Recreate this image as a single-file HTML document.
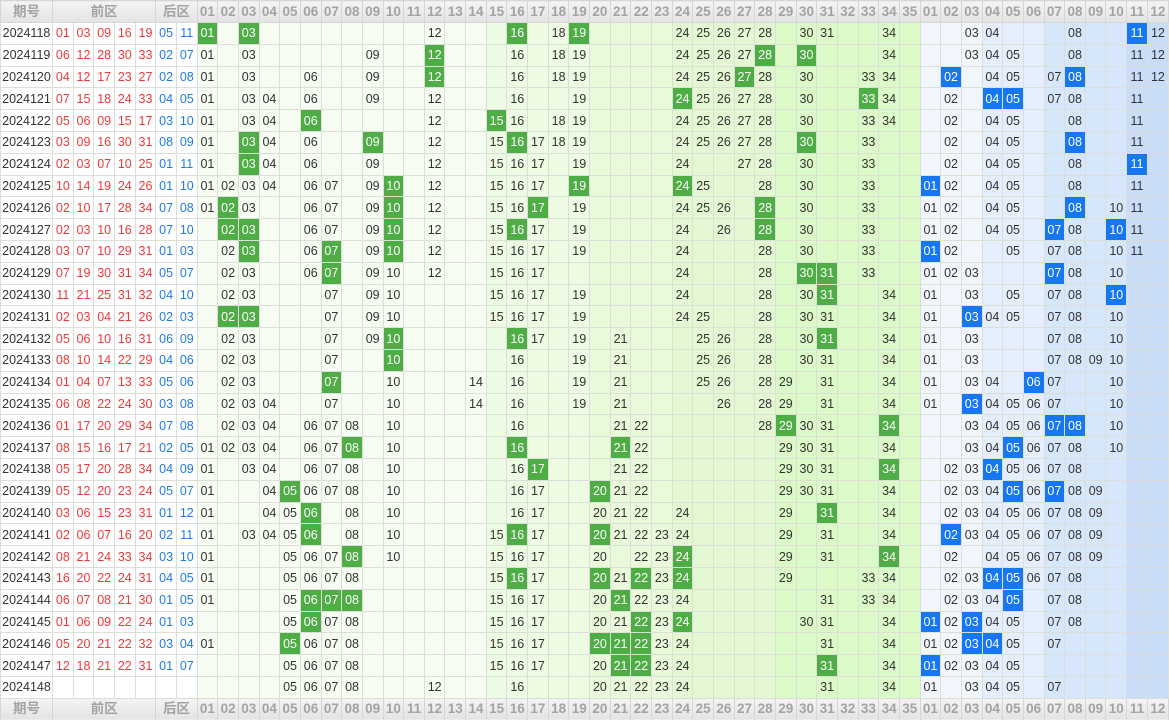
<!DOCTYPE html>
<html><head><meta charset="utf-8"><style>
html,body{margin:0;padding:0;background:#fff;width:1169px;height:720px;overflow:hidden}
table{border-collapse:collapse;table-layout:fixed;width:1169px;font-family:"Liberation Sans","Noto Sans CJK SC",sans-serif;font-size:12.5px;color:#333}
td,th{border:1px solid #dcdfd8;padding:0;text-align:center;white-space:nowrap;overflow:hidden;height:20.8px;line-height:20px}
th{background:linear-gradient(#f4f4f4,#e3e3e3);color:#a3a3a3;font-weight:bold;font-size:13.5px;height:21px;border-color:#d6d6d6}
tbody td:nth-child(n+2):nth-child(-n+6){color:#f0383a}
tbody td:nth-child(7),tbody td:nth-child(8){color:#1f7ae8}
td.g{background:#4fad46;color:#fff}
td.b{background:#1677f0;color:#fff}
</style></head><body>
<table>
<colgroup><col style="width:52px"><col span="7" style="background:#fff"><col span="14" style="background:#f7fcf2"><col span="5" style="background:#eefbe3"><col span="4" style="background:#e9fadb"><col span="5" style="background:#e3f8d2"><col span="7" style="background:#dcfac7"><col span="3" style="background:#f1f6fd"><col span="3" style="background:#e4eefc"><col span="4" style="background:#d7e7fb"><col span="2" style="background:#c9ddf9"></colgroup>
<thead><tr><th>期号<th colspan="5">前区<th colspan="2">后区<th>01<th>02<th>03<th>04<th>05<th>06<th>07<th>08<th>09<th>10<th>11<th>12<th>13<th>14<th>15<th>16<th>17<th>18<th>19<th>20<th>21<th>22<th>23<th>24<th>25<th>26<th>27<th>28<th>29<th>30<th>31<th>32<th>33<th>34<th>35<th>01<th>02<th>03<th>04<th>05<th>06<th>07<th>08<th>09<th>10<th>11<th>12</tr></thead>
<tbody>
<tr><td>2024118<td>01<td>03<td>09<td>16<td>19<td>05<td>11<td class=g>01<td><td class=g>03<td><td><td><td><td><td><td><td><td>12<td><td><td><td class=g>16<td><td>18<td class=g>19<td><td><td><td><td>24<td>25<td>26<td>27<td>28<td><td>30<td>31<td><td><td>34<td><td><td><td>03<td>04<td><td><td><td>08<td><td><td class=b>11<td>12</tr>
<tr><td>2024119<td>06<td>12<td>28<td>30<td>33<td>02<td>07<td>01<td><td>03<td><td><td><td><td><td>09<td><td><td class=g>12<td><td><td><td>16<td><td>18<td>19<td><td><td><td><td>24<td>25<td>26<td>27<td class=g>28<td><td class=g>30<td><td><td><td>34<td><td><td><td>03<td>04<td>05<td><td><td>08<td><td><td>11<td>12</tr>
<tr><td>2024120<td>04<td>12<td>17<td>23<td>27<td>02<td>08<td>01<td><td>03<td><td><td>06<td><td><td>09<td><td><td class=g>12<td><td><td><td>16<td><td>18<td>19<td><td><td><td><td>24<td>25<td>26<td class=g>27<td>28<td><td>30<td><td><td>33<td>34<td><td><td class=b>02<td><td>04<td>05<td><td>07<td class=b>08<td><td><td>11<td>12</tr>
<tr><td>2024121<td>07<td>15<td>18<td>24<td>33<td>04<td>05<td>01<td><td>03<td>04<td><td>06<td><td><td>09<td><td><td>12<td><td><td><td>16<td><td><td>19<td><td><td><td><td class=g>24<td>25<td>26<td>27<td>28<td><td>30<td><td><td class=g>33<td>34<td><td><td>02<td><td class=b>04<td class=b>05<td><td>07<td>08<td><td><td>11<td></tr>
<tr><td>2024122<td>05<td>06<td>09<td>15<td>17<td>03<td>10<td>01<td><td>03<td>04<td><td class=g>06<td><td><td><td><td><td>12<td><td><td class=g>15<td>16<td><td>18<td>19<td><td><td><td><td>24<td>25<td>26<td>27<td>28<td><td>30<td><td><td>33<td>34<td><td><td>02<td><td>04<td>05<td><td><td>08<td><td><td>11<td></tr>
<tr><td>2024123<td>03<td>09<td>16<td>30<td>31<td>08<td>09<td>01<td><td class=g>03<td>04<td><td>06<td><td><td class=g>09<td><td><td>12<td><td><td>15<td class=g>16<td>17<td>18<td>19<td><td><td><td><td>24<td>25<td>26<td>27<td>28<td><td class=g>30<td><td><td>33<td><td><td><td>02<td><td>04<td>05<td><td><td class=b>08<td><td><td>11<td></tr>
<tr><td>2024124<td>02<td>03<td>07<td>10<td>25<td>01<td>11<td>01<td><td class=g>03<td>04<td><td>06<td><td><td>09<td><td><td>12<td><td><td>15<td>16<td>17<td><td>19<td><td><td><td><td>24<td><td><td>27<td>28<td><td>30<td><td><td>33<td><td><td><td>02<td><td>04<td>05<td><td><td>08<td><td><td class=b>11<td></tr>
<tr><td>2024125<td>10<td>14<td>19<td>24<td>26<td>01<td>10<td>01<td>02<td>03<td>04<td><td>06<td>07<td><td>09<td class=g>10<td><td>12<td><td><td>15<td>16<td>17<td><td class=g>19<td><td><td><td><td class=g>24<td>25<td><td><td>28<td><td>30<td><td><td>33<td><td><td class=b>01<td>02<td><td>04<td>05<td><td><td>08<td><td><td>11<td></tr>
<tr><td>2024126<td>02<td>10<td>17<td>28<td>34<td>07<td>08<td>01<td class=g>02<td>03<td><td><td>06<td>07<td><td>09<td class=g>10<td><td>12<td><td><td>15<td>16<td class=g>17<td><td>19<td><td><td><td><td>24<td>25<td>26<td><td class=g>28<td><td>30<td><td><td>33<td><td><td>01<td>02<td><td>04<td>05<td><td><td class=b>08<td><td>10<td>11<td></tr>
<tr><td>2024127<td>02<td>03<td>10<td>16<td>28<td>07<td>10<td><td class=g>02<td class=g>03<td><td><td>06<td>07<td><td>09<td class=g>10<td><td>12<td><td><td>15<td class=g>16<td>17<td><td>19<td><td><td><td><td>24<td><td>26<td><td class=g>28<td><td>30<td><td><td>33<td><td><td>01<td>02<td><td>04<td>05<td><td class=b>07<td>08<td><td class=b>10<td>11<td></tr>
<tr><td>2024128<td>03<td>07<td>10<td>29<td>31<td>01<td>03<td><td>02<td class=g>03<td><td><td>06<td class=g>07<td><td>09<td class=g>10<td><td>12<td><td><td>15<td>16<td>17<td><td>19<td><td><td><td><td>24<td><td><td><td>28<td><td>30<td><td><td>33<td><td><td class=b>01<td>02<td><td><td>05<td><td>07<td>08<td><td>10<td>11<td></tr>
<tr><td>2024129<td>07<td>19<td>30<td>31<td>34<td>05<td>07<td><td>02<td>03<td><td><td>06<td class=g>07<td><td>09<td>10<td><td>12<td><td><td>15<td>16<td>17<td><td><td><td><td><td><td>24<td><td><td><td>28<td><td class=g>30<td class=g>31<td><td>33<td><td><td>01<td>02<td>03<td><td><td><td class=b>07<td>08<td><td>10<td><td></tr>
<tr><td>2024130<td>11<td>21<td>25<td>31<td>32<td>04<td>10<td><td>02<td>03<td><td><td><td>07<td><td>09<td>10<td><td><td><td><td>15<td>16<td>17<td><td>19<td><td><td><td><td>24<td><td><td><td>28<td><td>30<td class=g>31<td><td><td>34<td><td>01<td><td>03<td><td>05<td><td>07<td>08<td><td class=b>10<td><td></tr>
<tr><td>2024131<td>02<td>03<td>04<td>21<td>26<td>02<td>03<td><td class=g>02<td class=g>03<td><td><td><td>07<td><td>09<td>10<td><td><td><td><td>15<td>16<td>17<td><td>19<td><td><td><td><td>24<td>25<td><td><td>28<td><td>30<td>31<td><td><td>34<td><td>01<td><td class=b>03<td>04<td>05<td><td>07<td>08<td><td>10<td><td></tr>
<tr><td>2024132<td>05<td>06<td>10<td>16<td>31<td>06<td>09<td><td>02<td>03<td><td><td><td>07<td><td>09<td class=g>10<td><td><td><td><td><td class=g>16<td>17<td><td>19<td><td>21<td><td><td><td>25<td>26<td><td>28<td><td>30<td class=g>31<td><td><td>34<td><td>01<td><td>03<td><td><td><td>07<td>08<td><td>10<td><td></tr>
<tr><td>2024133<td>08<td>10<td>14<td>22<td>29<td>04<td>06<td><td>02<td>03<td><td><td><td>07<td><td><td class=g>10<td><td><td><td><td><td>16<td><td><td>19<td><td>21<td><td><td><td>25<td>26<td><td>28<td><td>30<td>31<td><td><td>34<td><td>01<td><td>03<td><td><td><td>07<td>08<td>09<td>10<td><td></tr>
<tr><td>2024134<td>01<td>04<td>07<td>13<td>33<td>05<td>06<td><td>02<td>03<td><td><td><td class=g>07<td><td><td>10<td><td><td><td>14<td><td>16<td><td><td>19<td><td>21<td><td><td><td>25<td>26<td><td>28<td>29<td><td>31<td><td><td>34<td><td>01<td><td>03<td>04<td><td class=b>06<td>07<td><td><td>10<td><td></tr>
<tr><td>2024135<td>06<td>08<td>22<td>24<td>30<td>03<td>08<td><td>02<td>03<td>04<td><td><td>07<td><td><td>10<td><td><td><td>14<td><td>16<td><td><td>19<td><td>21<td><td><td><td><td>26<td><td>28<td>29<td><td>31<td><td><td>34<td><td>01<td><td class=b>03<td>04<td>05<td>06<td>07<td><td><td>10<td><td></tr>
<tr><td>2024136<td>01<td>17<td>20<td>29<td>34<td>07<td>08<td><td>02<td>03<td>04<td><td>06<td>07<td>08<td><td>10<td><td><td><td><td><td>16<td><td><td><td><td>21<td>22<td><td><td><td><td><td>28<td class=g>29<td>30<td>31<td><td><td class=g>34<td><td><td><td>03<td>04<td>05<td>06<td class=b>07<td class=b>08<td><td>10<td><td></tr>
<tr><td>2024137<td>08<td>15<td>16<td>17<td>21<td>02<td>05<td>01<td>02<td>03<td>04<td><td>06<td>07<td class=g>08<td><td>10<td><td><td><td><td><td class=g>16<td><td><td><td><td class=g>21<td>22<td><td><td><td><td><td><td>29<td>30<td>31<td><td><td>34<td><td><td><td>03<td>04<td class=b>05<td>06<td>07<td>08<td><td>10<td><td></tr>
<tr><td>2024138<td>05<td>17<td>20<td>28<td>34<td>04<td>09<td>01<td><td>03<td>04<td><td>06<td>07<td>08<td><td>10<td><td><td><td><td><td>16<td class=g>17<td><td><td><td>21<td>22<td><td><td><td><td><td><td>29<td>30<td>31<td><td><td class=g>34<td><td><td>02<td>03<td class=b>04<td>05<td>06<td>07<td>08<td><td><td><td></tr>
<tr><td>2024139<td>05<td>12<td>20<td>23<td>24<td>05<td>07<td>01<td><td><td>04<td class=g>05<td>06<td>07<td>08<td><td>10<td><td><td><td><td><td>16<td>17<td><td><td class=g>20<td>21<td>22<td><td><td><td><td><td><td>29<td>30<td>31<td><td><td>34<td><td><td>02<td>03<td>04<td class=b>05<td>06<td class=b>07<td>08<td>09<td><td><td></tr>
<tr><td>2024140<td>03<td>06<td>15<td>23<td>31<td>01<td>12<td>01<td><td><td>04<td>05<td class=g>06<td><td>08<td><td>10<td><td><td><td><td><td>16<td>17<td><td><td>20<td>21<td>22<td><td>24<td><td><td><td><td>29<td><td class=g>31<td><td><td>34<td><td><td>02<td>03<td>04<td>05<td>06<td>07<td>08<td>09<td><td><td></tr>
<tr><td>2024141<td>02<td>06<td>07<td>16<td>20<td>02<td>11<td>01<td><td>03<td>04<td>05<td class=g>06<td><td>08<td><td>10<td><td><td><td><td>15<td class=g>16<td>17<td><td><td class=g>20<td>21<td>22<td>23<td>24<td><td><td><td><td>29<td><td>31<td><td><td>34<td><td><td class=b>02<td>03<td>04<td>05<td>06<td>07<td>08<td>09<td><td><td></tr>
<tr><td>2024142<td>08<td>21<td>24<td>33<td>34<td>03<td>10<td>01<td><td><td><td>05<td>06<td>07<td class=g>08<td><td>10<td><td><td><td><td>15<td>16<td>17<td><td><td>20<td><td>22<td>23<td class=g>24<td><td><td><td><td>29<td><td>31<td><td><td class=g>34<td><td><td>02<td><td>04<td>05<td>06<td>07<td>08<td>09<td><td><td></tr>
<tr><td>2024143<td>16<td>20<td>22<td>24<td>31<td>04<td>05<td>01<td><td><td><td>05<td>06<td>07<td>08<td><td><td><td><td><td><td>15<td class=g>16<td>17<td><td><td class=g>20<td>21<td class=g>22<td>23<td class=g>24<td><td><td><td><td>29<td><td><td><td>33<td>34<td><td><td>02<td>03<td class=b>04<td class=b>05<td>06<td>07<td>08<td><td><td><td></tr>
<tr><td>2024144<td>06<td>07<td>08<td>21<td>30<td>01<td>05<td>01<td><td><td><td>05<td class=g>06<td class=g>07<td class=g>08<td><td><td><td><td><td><td>15<td>16<td>17<td><td><td>20<td class=g>21<td>22<td>23<td>24<td><td><td><td><td><td><td>31<td><td>33<td>34<td><td><td>02<td>03<td>04<td class=b>05<td><td>07<td>08<td><td><td><td></tr>
<tr><td>2024145<td>01<td>06<td>09<td>22<td>24<td>01<td>03<td><td><td><td><td>05<td class=g>06<td>07<td>08<td><td><td><td><td><td><td>15<td>16<td>17<td><td><td>20<td>21<td class=g>22<td>23<td class=g>24<td><td><td><td><td><td>30<td>31<td><td><td>34<td><td class=b>01<td>02<td class=b>03<td>04<td>05<td><td>07<td>08<td><td><td><td></tr>
<tr><td>2024146<td>05<td>20<td>21<td>22<td>32<td>03<td>04<td>01<td><td><td><td class=g>05<td>06<td>07<td>08<td><td><td><td><td><td><td>15<td>16<td>17<td><td><td class=g>20<td class=g>21<td class=g>22<td>23<td>24<td><td><td><td><td><td><td>31<td><td><td>34<td><td>01<td>02<td class=b>03<td class=b>04<td>05<td><td>07<td><td><td><td><td></tr>
<tr><td>2024147<td>12<td>18<td>21<td>22<td>31<td>01<td>07<td><td><td><td><td>05<td>06<td>07<td>08<td><td><td><td><td><td><td>15<td>16<td>17<td><td><td>20<td class=g>21<td class=g>22<td>23<td>24<td><td><td><td><td><td><td class=g>31<td><td><td>34<td><td class=b>01<td>02<td>03<td>04<td>05<td><td><td><td><td><td><td></tr>
<tr><td>2024148<td><td><td><td><td><td><td><td><td><td><td><td>05<td>06<td>07<td>08<td><td><td><td>12<td><td><td><td>16<td><td><td><td>20<td>21<td>22<td>23<td>24<td><td><td><td><td><td><td>31<td><td><td>34<td><td>01<td><td>03<td>04<td>05<td><td>07<td><td><td><td><td></tr>
</tbody>
<tfoot><tr><th>期号<th colspan="5">前区<th colspan="2">后区<th>01<th>02<th>03<th>04<th>05<th>06<th>07<th>08<th>09<th>10<th>11<th>12<th>13<th>14<th>15<th>16<th>17<th>18<th>19<th>20<th>21<th>22<th>23<th>24<th>25<th>26<th>27<th>28<th>29<th>30<th>31<th>32<th>33<th>34<th>35<th>01<th>02<th>03<th>04<th>05<th>06<th>07<th>08<th>09<th>10<th>11<th>12</tr></tfoot>
</table>
</body></html>
